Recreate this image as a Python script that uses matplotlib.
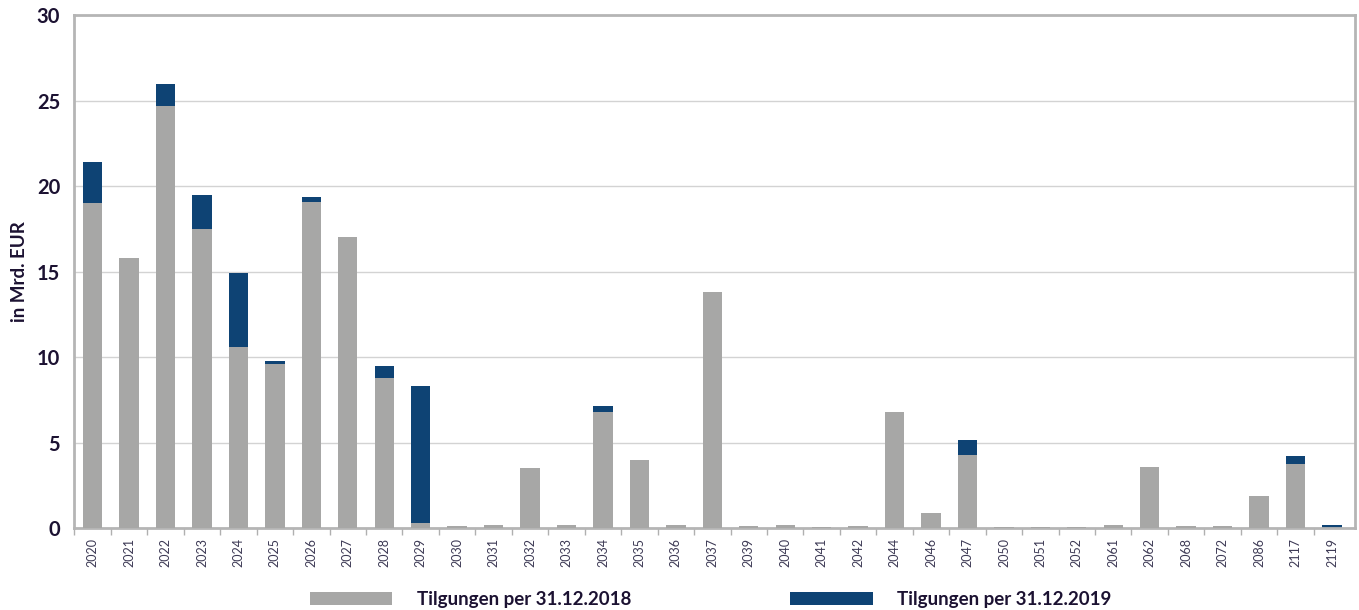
import matplotlib.pyplot as plt
import numpy as np

plt.rcParams['font.family'] = ['Lato', 'DejaVu Sans']

years = ['2020', '2021', '2022', '2023', '2024', '2025', '2026', '2027', '2028', '2029',
         '2030', '2031', '2032', '2033', '2034', '2035', '2036', '2037', '2039', '2040',
         '2041', '2042', '2044', '2046', '2047', '2050', '2051', '2052', '2061', '2062',
         '2068', '2072', '2086', '2117', '2119']
# Tilgungen per 31.12.2018 (grau)
t2018 = [19.0, 15.8, 24.7, 17.5, 10.6, 9.6, 19.1, 17.0, 8.8, 0.3,
         0.1, 0.15, 3.5, 0.15, 6.8, 4.0, 0.15, 13.8, 0.1, 0.15,
         0.05, 0.1, 6.8, 0.9, 4.3, 0.05, 0.05, 0.05, 0.15, 3.55,
         0.1, 0.1, 1.85, 3.75, 0.0]
# Tilgungen per 31.12.2019 (blau)
t2019 = [21.4, 0.0, 26.0, 19.5, 14.9, 9.8, 19.35, 0.0, 9.5, 8.3,
         0.0, 0.0, 0.0, 0.0, 7.15, 0.0, 0.0, 0.0, 0.0, 0.0,
         0.0, 0.0, 0.0, 0.0, 5.15, 0.0, 0.0, 0.0, 0.0, 0.0,
         0.0, 0.0, 0.0, 4.2, 0.15]

grey = '#a7a7a6'
blue = '#0e4374'
txt = '#1c1232'

fig = plt.figure(figsize=(13.59, 6.10), dpi=100)
ax = fig.add_axes([0.0545, 0.1344, 0.9425, 0.8406])

x = np.arange(len(years))
b2 = ax.bar(x, t2019, width=0.53, color=blue, zorder=2, label='Tilgungen per 31.12.2019')
b1 = ax.bar(x, t2018, width=0.53, color=grey, zorder=3, label='Tilgungen per 31.12.2018')

ax.set_ylim(0, 30)
ax.set_xlim(-0.51, len(years) - 1 + 0.63)
ax.set_yticks(np.arange(0, 31, 5))
ax.tick_params(axis='y', length=0, labelsize=14.5, labelcolor=txt, pad=10)
for lbl in ax.get_yticklabels():
    lbl.set_fontweight('bold')
ax.yaxis.grid(True, color='#d3d3d3', linewidth=1, zorder=0)
ax.set_axisbelow(True)

ax.set_xticks(x)
ax.set_xticklabels(years, rotation=90, fontsize=9, color='#3d3a55')
ax.tick_params(axis='x', which='major', length=0, pad=7)
ax.set_xticks(np.arange(-0.5, len(years) - 0.5, 1), minor=True)
ax.tick_params(axis='x', which='minor', length=5, color='#b0b0b0', width=1)

for sp in ax.spines.values():
    sp.set_color('#b5b5b5')
    sp.set_linewidth(2)

ax.set_ylabel('in Mrd. EUR', fontsize=13.5, fontweight='bold', color=txt)
ax.yaxis.set_label_coords(-0.036, 0.5)

fig.legend(handles=[b1, b2], loc='center', bbox_to_anchor=(0.523, 0.017), ncol=2,
           frameon=False, handlelength=4.4, handleheight=0.7, handletextpad=1.3,
           columnspacing=8.5, prop={'size': 13.5, 'weight': 'bold'}, labelcolor=txt)

fig.savefig('out.png', dpi=100)
